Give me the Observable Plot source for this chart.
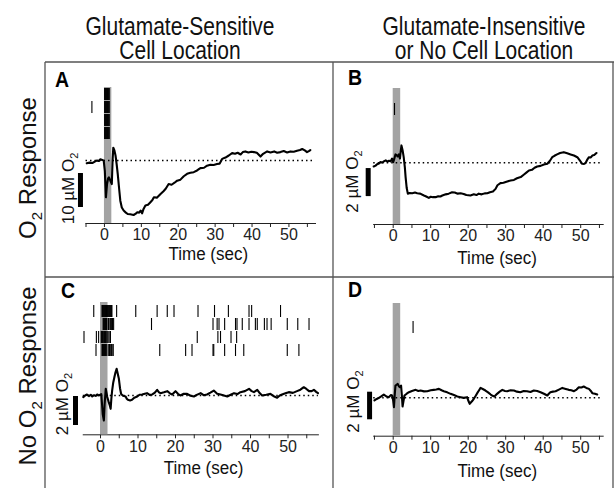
<!DOCTYPE html>
<html><head><meta charset="utf-8">
<script src="https://cdn.jsdelivr.net/npm/d3@7"></script>
<script src="https://cdn.jsdelivr.net/npm/@observablehq/plot@0.6"></script>
<style>
body{margin:0;background:#fff;}
#fig{position:relative;width:614px;height:488px;font-family:"Liberation Sans",Arial,sans-serif;}
#fig svg{position:absolute;left:0;top:0;}
</style></head><body><div id="fig"></div><script>
// ---------------- DATA ----------------
const columnTitles = [["Glutamate-Sensitive", "Cell Location"], ["Glutamate-Insensitive", "or No Cell Location"]];
const rowTitles = [["O", "2", " Response"], ["No O", "2", " Response"]];
const panelLetters = ["A", "B", "C", "D"];
const axisTitle = "Time (sec)";
const timeTicks = [-5, 0, 5, 10, 15, 20, 25, 30, 35, 40, 45, 50, 55];
const timeTickLabels = [0, 10, 20, 30, 40, 50];
const stimulus = [[0, 2]]; // glutamate puff (s)
const scaleLabels = ["10 µM O2", "2 µM O2", "2 µM O2", "2 µM O2"];
const scaleSizes = [10, 2, 2, 2]; // µM

const traceA = [[-4.8,-0.8],[-4,-0.6],[-3.2,-0.7],[-2.5,-0.2],[-2,0],[-1.5,-0.1],[-1.1,0.4],[-0.6,0.2],[-0.2,0],[0.1,-3],[0.4,-10.8],[0.7,-6.9],[1.0,-5.2],[1.2,-4.9],[1.5,-5.6],[1.7,-6.2],[2.0,-6.9],[2.2,0],[2.4,3.8],[2.7,3.0],[3.0,1.5],[3.3,-1],[3.6,-3.9],[4.0,-8.5],[4.3,-11.8],[4.7,-13.8],[5.2,-14.7],[5.8,-15.3],[6.3,-15.7],[7.0,-15.8],[7.9,-16.0],[8.5,-15.6],[8.9,-15.2],[9.4,-15.3],[9.8,-14.7],[10.2,-15.5],[10.6,-14.2],[11.1,-13.2],[11.8,-13.0],[12.4,-12.3],[13.0,-11.6],[13.4,-10.8],[14.2,-10.9],[15.2,-9.8],[16.0,-9.0],[16.6,-8.3],[17.4,-6.9],[18.2,-7.1],[19.0,-6.5],[19.7,-5.9],[20.6,-5.6],[21.5,-4.6],[22.4,-3.9],[23.3,-3.6],[24.2,-3.4],[25.1,-2.9],[26.0,-2.2],[27.0,-2.1],[27.8,-1.5],[28.7,-1.2],[29.6,-1.3],[30.5,-1.0],[31.2,-0.9],[31.9,0.5],[32.8,0.9],[33.7,1.5],[34.6,2.2],[35.4,2.0],[36.1,2.3],[36.9,1.8],[37.5,2.5],[38.2,2.7],[39.0,2.4],[39.8,2.6],[40.5,2.5],[41.3,2.3],[42.3,1.2],[43.0,2.0],[44.1,2.7],[45.0,2.4],[46.0,2.7],[46.8,2.3],[47.7,2.5],[48.6,2.8],[49.5,2.4],[50.4,2.7],[51.3,2.6],[52.2,2.9],[53.0,3.1],[53.6,3.4],[54.3,3.0],[54.9,2.5],[55.4,2.8],[55.8,3.1]];
const traceB = [[-5.2,-0.26],[-4.7,-0.2],[-4.3,-0.1],[-3.8,-0.05],[-3.4,0.05],[-2.9,0.02],[-2.4,0.12],[-2,0.17],[-1.5,0.08],[-1.1,0.15],[-0.7,0.1],[-0.3,0.3],[0.0,0.05],[0.2,0.2],[0.6,0.6],[0.9,0.55],[1.2,0.45],[1.5,0.6],[1.8,0.3],[2.0,0.8],[2.2,1.24],[2.5,0.9],[2.8,0.4],[3.1,-0.3],[3.3,-1.0],[3.6,-1.8],[3.9,-2.2],[4.4,-2.15],[5.1,-2.17],[5.8,-2.12],[6.4,-2.17],[7.2,-2.2],[7.8,-2.28],[8.2,-2.33],[8.8,-2.4],[9.5,-2.5],[10.0,-2.42],[10.6,-2.45],[11.3,-2.45],[12.0,-2.38],[12.6,-2.4],[13.1,-2.33],[14.0,-2.25],[14.8,-2.2],[15.7,-2.1],[16.4,-2.12],[17.2,-2.2],[18.0,-2.17],[18.8,-2.22],[19.5,-2.3],[20.6,-2.33],[21.5,-2.25],[22.2,-2.3],[22.8,-2.2],[23.6,-2.25],[24.4,-2.18],[25.1,-2.17],[25.8,-2.1],[26.6,-2.05],[27.3,-1.86],[27.8,-1.6],[28.6,-1.45],[29.4,-1.42],[30.2,-1.35],[31.3,-1.26],[32.2,-1.22],[33.0,-1.1],[34.0,-1.02],[34.8,-0.85],[35.5,-0.7],[36.2,-0.55],[37.0,-0.5],[37.7,-0.35],[38.4,-0.26],[39.3,-0.22],[40.2,-0.12],[41.1,-0.07],[41.8,0.15],[42.4,0.4],[43.0,0.5],[43.7,0.6],[44.5,0.7],[45.5,0.76],[46.4,0.68],[47.3,0.6],[48.2,0.52],[49.1,0.4],[49.8,0.15],[50.4,-0.07],[50.9,-0.08],[51.3,-0.02],[51.8,0.25],[52.2,0.4],[52.7,0.38],[53.1,0.52],[53.6,0.55],[54.2,0.7]];
const traceC = [[-4.6,-0.11],[-4.1,0.0],[-3.6,0.07],[-3.1,-0.04],[-2.6,0.05],[-2.2,-0.07],[-1.7,0.02],[-1.3,-0.03],[-0.9,0.07],[-0.4,0.0],[0.2,0.1],[0.4,-0.57],[0.6,-1.3],[0.9,-1.72],[1.1,-0.6],[1.4,0.46],[1.6,0.2],[1.8,-0.1],[2.2,-0.46],[2.5,-0.7],[2.7,-0.92],[2.9,-0.2],[3.1,0.34],[3.4,0.9],[3.7,1.26],[4.0,1.6],[4.3,1.84],[4.6,1.5],[4.9,1.15],[5.2,0.5],[5.5,0.1],[6.0,-0.02],[6.7,-0.07],[7.0,-0.22],[7.3,-0.3],[7.9,-0.34],[8.4,-0.3],[9.0,-0.15],[9.8,-0.07],[10.4,0.05],[11.1,0.07],[11.8,0.12],[12.4,0.16],[13.1,0.04],[13.8,0.07],[14.5,0.2],[15.1,0.39],[15.6,0.22],[16.0,0.16],[16.9,0.22],[17.8,0.3],[18.5,0.15],[19.1,0.07],[20.0,0.3],[20.7,0.1],[21.3,0.0],[22.2,0.12],[23.1,0.11],[24.0,-0.02],[24.9,-0.07],[25.8,0.06],[26.7,0.16],[27.5,0.02],[28.4,0.07],[29.3,0.2],[30.2,0.34],[31.1,0.12],[32.0,0.07],[32.9,0.0],[33.8,-0.07],[34.7,0.05],[35.6,0.16],[36.5,0.1],[37.3,0.23],[38.5,0.3],[39.6,0.46],[40.3,0.3],[40.9,0.23],[41.8,0.39],[42.5,0.15],[43.1,0.0],[44.2,0.05],[45.3,0.11],[46.2,-0.05],[47.1,-0.16],[47.8,0.0],[48.4,0.07],[49.3,0.15],[50.2,0.23],[51.3,0.18],[52.4,0.3],[53.3,0.4],[54.2,0.57],[54.9,0.45],[55.6,0.3],[56.3,0.3],[56.9,0.39],[57.5,0.25],[58.0,0.16]];
const traceD = [[-5.0,-0.19],[-4.4,-0.08],[-3.8,0.0],[-3.1,0.12],[-2.5,0.24],[-1.8,0.1],[-1.2,0.05],[-0.6,0.2],[-0.3,0.17],[0.0,-0.2],[0.2,-0.68],[0.4,0.2],[0.6,0.89],[0.9,0.95],[1.2,1.01],[1.5,0.85],[1.8,0.77],[2.1,0.89],[2.3,0.2],[2.5,-0.63],[2.7,-0.3],[3.0,0.17],[3.6,0.3],[4.2,0.41],[5.0,0.5],[6.0,0.58],[6.7,0.5],[7.3,0.53],[8.2,0.47],[9.1,0.48],[10.0,0.55],[10.8,0.58],[11.5,0.6],[12.2,0.65],[12.9,0.55],[13.5,0.48],[14.4,0.4],[15.3,0.29],[16.2,0.2],[17.1,0.1],[18.0,0.05],[18.8,0.0],[19.7,0.05],[20.1,-0.25],[20.4,-0.43],[21.0,-0.25],[21.5,-0.07],[22.0,0.15],[22.4,0.34],[22.9,0.55],[23.3,0.72],[24.0,0.62],[24.6,0.53],[25.3,0.4],[26.0,0.24],[26.5,0.15],[27.0,0.1],[27.7,0.29],[28.4,0.45],[29.1,0.58],[29.8,0.5],[30.4,0.48],[31.3,0.55],[32.2,0.53],[33.0,0.45],[33.9,0.41],[34.8,0.5],[35.7,0.48],[36.6,0.42],[37.5,0.53],[38.4,0.5],[39.3,0.41],[40.2,0.3],[41.1,0.17],[41.5,0.3],[41.9,0.41],[42.6,0.45],[43.3,0.48],[44.2,0.6],[45.1,0.72],[46.0,0.65],[46.8,0.58],[47.5,0.55],[48.2,0.48],[48.9,0.6],[49.5,0.77],[50.2,0.75],[50.8,0.82],[51.5,0.72],[52.2,0.65],[52.7,0.5],[53.1,0.34],[53.8,0.3],[54.4,0.24]];

// spike rasters: one array of spike times (s) per trial row
const rasterA = [
  [0.05,0.2,0.35,0.5,0.65,0.8,0.95,1.15,1.3],
  [-3.4,0.05,0.2,0.35,0.5,0.65,0.8,0.95,1.15,1.3],
  [0.05,0.2,0.35,0.5,0.65,0.8,0.95,1.15,1.3],
  [0.05,0.2,0.35,0.5,0.65,0.8,0.95,1.15,1.3]
];
const rasterB = [[], [0.35], [], []];
const rasterC = [
  [-1.8,0.4,0.55,0.7,0.85,1.0,1.15,1.3,1.45,1.6,1.75,1.9,2.1,2.3,2.45,2.6,2.75,2.9,3.05,4.3,9.4,15.1,17.8,19.6,26.0,30.4,34.1,39.6,40.3,48.0],
  [0.7,0.85,1.0,1.15,1.3,1.45,1.6,2.0,2.15,2.3,2.7,2.9,3.2,3.5,13.6,30.0,31.1,31.6,33.1,36.0,36.4,37.8,39.6,41.3,41.8,43.7,44.4,45.5,49.8,52.6,55.6],
  [-4.4,-1.1,-0.5,0.2,0.35,0.5,0.7,0.9,1.1,1.3,1.5,1.75,2.0,2.3,2.65,25.8,31.3,32.0,34.8,36.3],
  [-1.2,0.4,0.55,0.7,0.85,1.0,1.15,1.3,1.5,1.7,2.2,2.4,2.6,2.9,3.1,3.4,15.8,22.7,24.4,30.0,30.2,33.1,36.0,38.2,49.8,52.9]
];
const rasterD = [[], [5.3], [], []];

// ---------------- LAYOUT ----------------
const W = 614, H = 488;
const FONT = '"Liberation Sans", Arial, Helvetica, sans-serif';
const panels = [
  {trace: traceA, raster: rasterA, xDomain: [-5, 57.2], yDomain: [-18.5, 21.5],
   left: 85.5, right: 315, top: 87, axis: 223, rTop: 85, rBottom: 141,
   barT: -6.5, barV: -3.8, labT: -9.75, labV: -8.2, tdx: 7.5, tdy: 30},
  {trace: traceB, raster: rasterB, xDomain: [-5.2, 56], yDomain: [-4.4, 5.3],
   left: 373.2, right: 602.7, top: 88, axis: 224, rTop: 87, rBottom: 143,
   barT: -6.67, barV: -0.41, labT: -10.85, labV: -1.34, tdx: 8.7, tdy: 33},
  {trace: traceC, raster: rasterC, xDomain: [-4.6, 58.1], yDomain: [-2.71, 6.41],
   left: 82.75, right: 317.9, top: 302, axis: 434.3, rTop: 302, rBottom: 358,
   barT: -6.67, barV: -0.07, labT: -10.2, labV: -0.59, tdx: 2.7, tdy: 32.7},
  {trace: traceD, raster: rasterD, xDomain: [-5.2, 56], yDomain: [-2.78, 6.84],
   left: 373.2, right: 602.7, top: 303, axis: 435.7, rTop: 305, rBottom: 361,
   barT: -6.3, barV: 0.41, labT: -10.5, labV: -0.27, tdx: 8.8, tdy: 34.3}
];

const fig = document.getElementById("fig");

// vertically stretch a text element about its own centre (the reference type is tall)
function stretch(el, k) {
  const b = el.getBBox(); // local coordinates
  const cx = b.x + b.width / 2, cy = b.y + b.height / 2;
  const tr = el.getAttribute("transform") || "";
  el.setAttribute("transform", `${tr} translate(${cx},${cy}) scale(1,${k}) translate(${-cx},${-cy})`);
}

// background: frame lines, titles, row labels, panel letters
const bg = d3.create("svg").attr("width", W).attr("height", H)
  .attr("font-family", FONT);
fig.appendChild(bg.node());
const frameLines = [[45,62,614,62],[45,62,45,488],[333,62,333,488],[45,277,614,277],[613,62,613,488]];
bg.selectAll("line").data(frameLines).join("line")
  .attr("x1", d=>d[0]).attr("y1", d=>d[1]).attr("x2", d=>d[2]).attr("y2", d=>d[3])
  .attr("stroke", "#555").attr("stroke-width", 1.3);
const titleX = [180, 484];
columnTitles.forEach((lines, i) => {
  lines.forEach((s, j) => {
    const base = 34.5 + j * 24.3;
    bg.append("text").attr("transform", `translate(${titleX[i]},${base}) scale(1,1.26)`)
      .attr("text-anchor", "middle").attr("font-size", 21).attr("fill", "#111").text(s);
  });
});
const rowY = [168, 376];
rowTitles.forEach((parts, i) => {
  const t = bg.append("text").attr("transform", `translate(27,${rowY[i]}) rotate(-90)`)
    .attr("text-anchor", "middle").attr("dy", "0.36em").attr("font-size", 24).attr("fill", "#111");
  t.append("tspan").text(parts[0]);
  t.append("tspan").attr("font-size", 15).attr("dy", 6).text(parts[1]);
  t.append("tspan").attr("dy", -6).text(parts[2]);
});
const letterPos = [[55,87],[348,85],[61,298],[348,297]];
panelLetters.forEach((s, i) => {
  bg.append("text").attr("transform", `translate(${letterPos[i][0]},${letterPos[i][1]}) scale(1,1.1)`)
    .attr("font-size", 19.5).attr("font-weight", "bold").attr("fill", "#000").text(s);
});

function subscript(svg) {
  svg.querySelectorAll("text").forEach(el => {
    if (/ O2$/.test(el.textContent) && el.children.length === 0) {
      el.textContent = el.textContent.slice(0, -1);
      const ts = document.createElementNS("http://www.w3.org/2000/svg", "tspan");
      ts.setAttribute("font-size", "11");
      ts.setAttribute("dy", "4");
      ts.textContent = "2";
      el.appendChild(ts);
    }
  });
}

panels.forEach((p, i) => {
  const common = {
    width: W, height: H, marginLeft: p.left, marginRight: W - p.right,
    style: {background: "transparent", fontFamily: FONT, fontSize: "16px", color: "#222", overflow: "visible"}
  };
  const trace = Plot.plot({
    ...common,
    marginTop: p.top, marginBottom: H - p.axis,
    x: {domain: p.xDomain, ticks: timeTicks.filter(t => t >= p.xDomain[0] && t <= p.xDomain[1]),
        tickFormat: t => timeTickLabels.includes(t) ? String(t) : "",
        tickSize: 4, tickPadding: 1.5, line: true, label: null},
    y: {domain: p.yDomain, axis: null},
    marks: [
      Plot.rect(stimulus, {x1: d => d[0], x2: d => d[1], y1: p.yDomain[0], y2: p.yDomain[1], fill: "#a3a3a3"}),
      Plot.ruleY([0], {stroke: "#000", strokeWidth: 1.5, strokeDasharray: "1.5,3"}),
      Plot.line(p.trace, {x: d => d[0], y: d => d[1], stroke: "#000", strokeWidth: 2.1, strokeLinejoin: "round"}),
      Plot.ruleX([scaleSizes[i]], {x: p.barT, y1: p.barV, y2: d => p.barV - d, stroke: "#000", strokeWidth: 5}),
      Plot.text([scaleLabels[i]], {x: p.labT, y: p.labV, text: d => d, rotate: -90, fontSize: 17, fill: "#111"}),
      Plot.text([axisTitle], {frameAnchor: "bottom", dx: p.tdx, dy: p.tdy, lineAnchor: "middle", text: d => d, fontSize: 17, fill: "#111"})
    ]
  });
  subscript(trace);
  fig.appendChild(trace);
  trace.querySelectorAll("text").forEach(el => {
    if (el.textContent === axisTitle) stretch(el, 1.12);
  });

  const spikes = p.raster.flatMap((times, row) => times.map(t => ({t, row})));
  const raster = Plot.plot({
    ...common,
    marginTop: p.rTop, marginBottom: H - p.rBottom,
    x: {domain: p.xDomain, axis: null},
    y: {type: "band", domain: [0, 1, 2, 3], axis: null, padding: 0.1},
    marks: [Plot.tickX(spikes, {x: "t", y: "row", stroke: "#000", strokeWidth: 1.1})]
  });
  fig.appendChild(raster);
});
</script></body></html>
